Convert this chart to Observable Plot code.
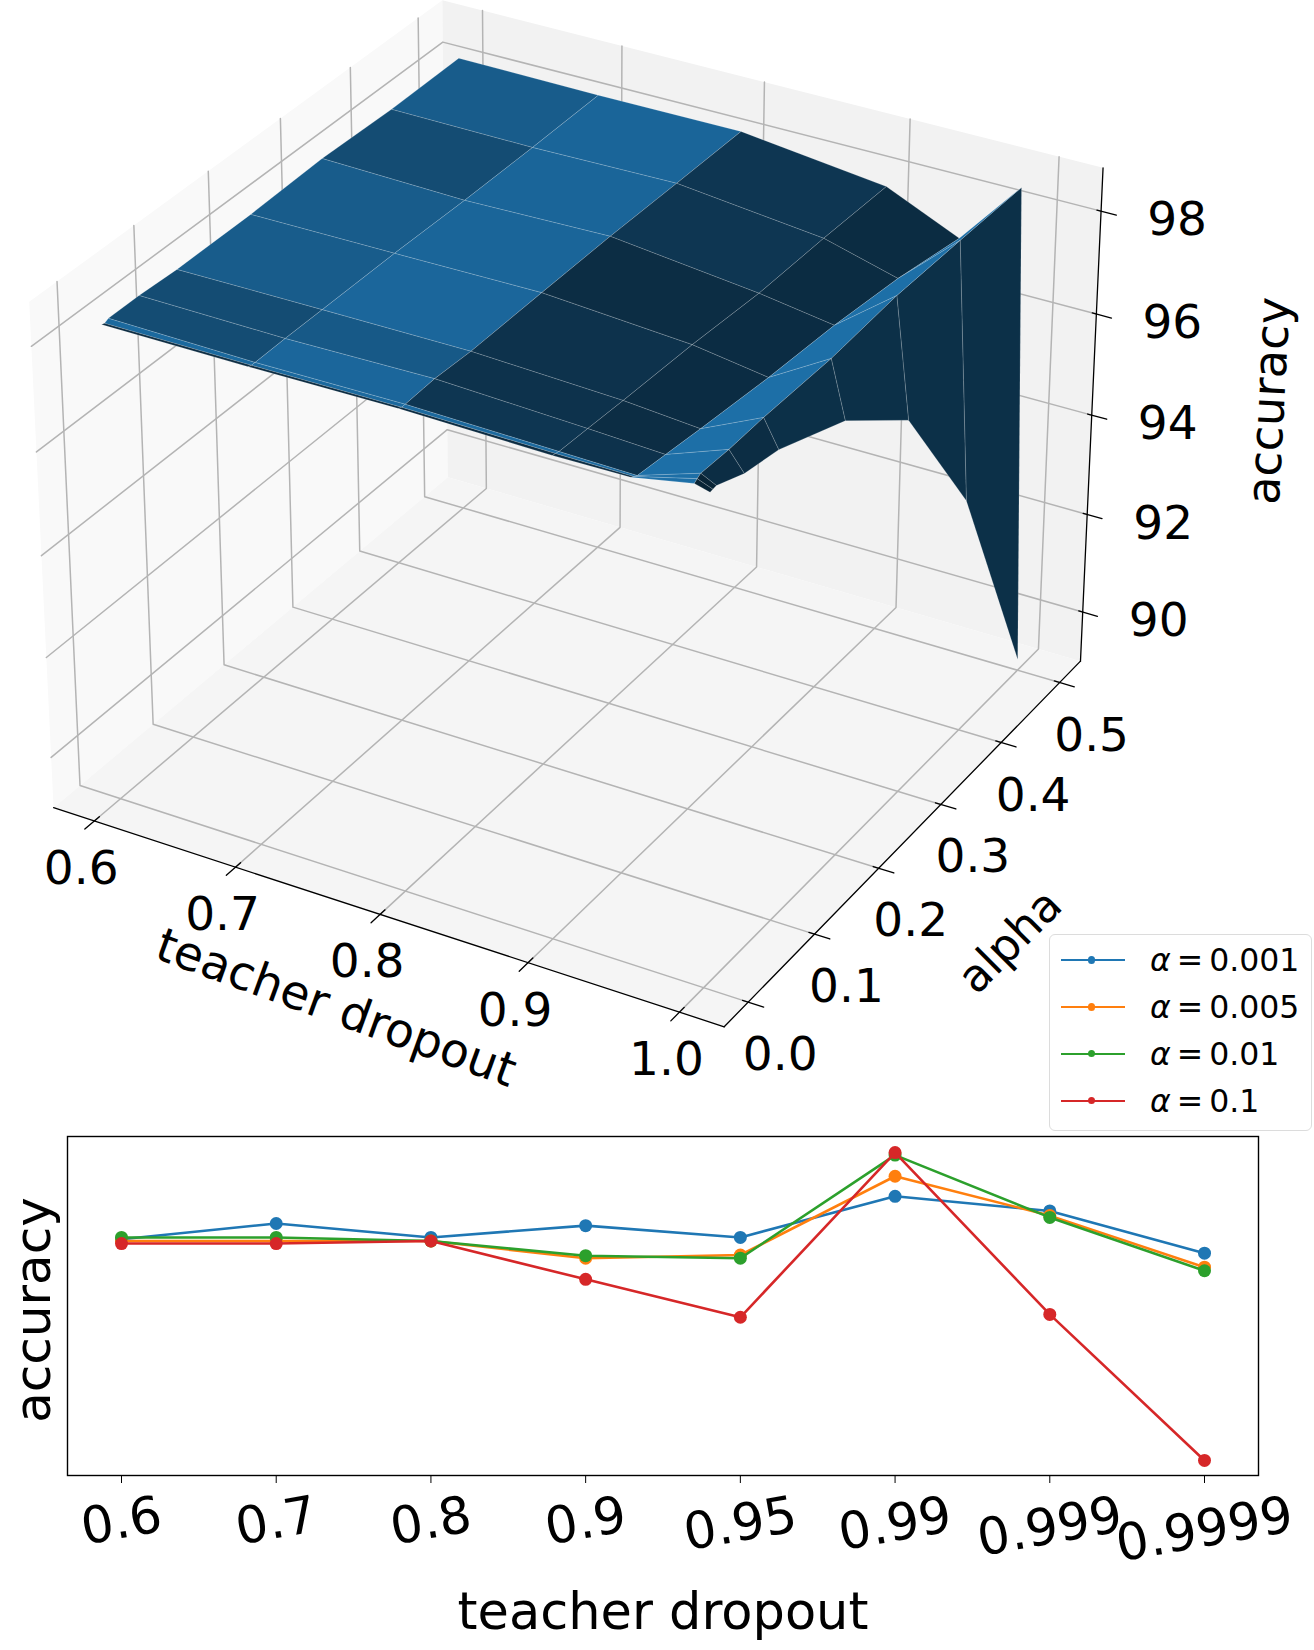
<!DOCTYPE html>
<html>
<head>
<meta charset="utf-8">
<script src="https://cdn.jsdelivr.net/npm/d3@7"></script>
<script src="https://cdn.jsdelivr.net/npm/@observablehq/plot@0.6"></script>
<style>
  body { margin: 0; background: #fff; font-family: "DejaVu Sans", sans-serif; }
  #page { position: relative; width: 1314px; height: 1650px; overflow: hidden; }
  #top, #bottom { position: absolute; left: 0; }
  #top { top: 0; }
  #bottom { top: 1132px; }
  #legend { position: absolute; left: 1049px; top: 934px; width: 263px; height: 197px; box-sizing: border-box;
    background: #fff; border: 1.5px solid #dcdcdc; border-radius: 6px; }
  .row { position: absolute; left: 0; width: 100%; height: 0; }
  .row .ln { position: absolute; left: 10.5px; top: -1px; width: 64px; height: 2px; }
  .row .pt { position: absolute; left: 38px; top: -3.7px; width: 7.4px; height: 7.4px; border-radius: 50%; }
  .row .tx { position: absolute; left: 100px; top: -20px; line-height: 40px; font-size: 31.5px; word-spacing: -4px; white-space: nowrap; color: #000; }
</style>
</head>
<body>
<div id="page">
  <div id="top"></div>
  <div id="bottom"></div>
  <div id="legend"></div>
</div>
<script>
/* Surface: columns are teacher dropout, values run along alpha */
const dropoutGrid = [0.6, 0.7, 0.8, 0.9, 0.95, 0.99, 0.9999]
const alphaGrid = [0.001, 0.005, 0.01, 0.05, 0.1, 0.2, 0.3, 0.4, 0.5]
const acc06 = [98.24, 98.22, 98.26, 98.26, 98.22, 98.22, 98.27, 98.22, 98.24]
const acc07 = [98.24, 98.22, 98.22, 98.23, 98.23, 98.23, 98.20, 98.20, 98.22]
const acc08 = [98.26, 98.24, 98.24, 98.27, 98.23, 98.25, 98.26, 98.24, 98.23]
const acc09 = [98.21, 98.20, 98.18, 98.15, 98.11, 98.05, 97.94, 97.93, 97.89]
const acc095 = [98.22, 98.19, 98.15, 98.08, 97.99, 97.83, 97.72, 97.54, 97.26]
const acc099 = [98.44, 98.48, 98.52, 98.50, 98.52, 98.50, 98.59, 98.57, 98.54]
const acc09999 = [98.36, 98.37, 98.38, 98.14, 98.01, 97.42, 96.31, 93.61, 89.20]
const surface = [acc06, acc07, acc08, acc09, acc095, acc099, acc09999]

/* brightness of each cell (rows along alpha, then dropout) */
const cellShade = [
  [0.36, 0.36, 0.36, 0.36, 0.93, 0.30],
  [0.88, 0.88, 0.88, 0.88, 0.93, 0.30],
  [0.64, 0.86, 0.455, 0.42, 0.93, 0.38],
  [0.64, 0.75, 0.42, 0.38, 0.93, 0.38],
  [0.77, 0.86, 0.42, 0.37, 0.93, 0.40],
  [0.77, 0.85, 0.38, 0.37, 0.93, 0.40],
  [0.64, 0.85, 0.455, 0.367, 0.93, 0.40],
  [0.77, 0.85, 0.455, 0.367, 0.93, 0.40],
]

/* 3d axes */
const xLim = [0.5708, 1.0291]
const yLim = [-0.0354, 0.5364]
const zLim = [88.98, 98.83]
const xTicks = [0.6, 0.7, 0.8, 0.9, 1.0]
const yTicks = [0, 0.1, 0.2, 0.3, 0.4, 0.5]
const zTicks = [90, 92, 94, 96, 98]

/* Line chart */
const dropoutLabels = ['0.6', '0.7', '0.8', '0.9', '0.95', '0.99', '0.999', '0.9999']
const lineAlpha = ['0.001', '0.005', '0.01', '0.1']
const lineColors = ['#1f77b4', '#ff7f0e', '#2ca02c', '#d62728']
const accAlpha0001 = [95.78, 96.22, 95.83, 96.16, 95.83, 96.98, 96.57, 95.39]
const accAlpha0005 = [95.73, 95.73, 95.73, 95.25, 95.34, 97.54, 96.44, 95.00]
const accAlpha001 = [95.83, 95.83, 95.73, 95.32, 95.25, 98.13, 96.39, 94.90]
const accAlpha01 = [95.66, 95.66, 95.73, 94.66, 93.60, 98.20, 93.68, 89.60]
const lineSeries = [accAlpha0001, accAlpha0005, accAlpha001, accAlpha01]

/* mplot3d camera, elev 30 azim -60 */
const boxHalf = [0.595, 0.595, 0.4465]
const viewN = [0.433013, -0.75, 0.5]
const viewU = [0.866025, 0.5, 0]
const viewV = [-0.25, 0.433013, 0.866025]
const dot3 = (p, q) => p[0] * q[0] + p[1] * q[1] + p[2] * q[2]

function project(x, y, z) {
  const p = [
    ((x - xLim[0]) / (xLim[1] - xLim[0]) * 2 - 1) * boxHalf[0],
    ((y - yLim[0]) / (yLim[1] - yLim[0]) * 2 - 1) * boxHalf[1],
    ((z - zLim[0]) / (zLim[1] - zLim[0]) * 2 - 1) * boxHalf[2],
  ]
  const depth = 10 - dot3(p, viewN)
  return { a: dot3(p, viewU) / depth, b: dot3(p, viewV) / depth, depth }
}

/* points -> rows for Plot.line, one id per polygon or segment */
let nextId = 0
function path(points, extra = {}) {
  const id = nextId++
  return points.map(p => ({ id, ...project(...p), ...extra }))
}

const [x0, x1] = xLim
const [y0, y1] = yLim
const [z0, z1] = zLim

const panes = [
  { fill: '#f9f9f9', corners: [[x0, y0, z0], [x0, y1, z0], [x0, y1, z1], [x0, y0, z1], [x0, y0, z0]] },
  { fill: '#f2f2f2', corners: [[x0, y1, z0], [x1, y1, z0], [x1, y1, z1], [x0, y1, z1], [x0, y1, z0]] },
  { fill: '#f5f5f5', corners: [[x0, y0, z0], [x1, y0, z0], [x1, y1, z0], [x0, y1, z0], [x0, y0, z0]] },
]

const gridRows = [
  ...xTicks.flatMap(t => path([[t, y0, z0], [t, y1, z0], [t, y1, z1]])),
  ...yTicks.flatMap(t => path([[x1, t, z0], [x0, t, z0], [x0, t, z1]])),
  ...zTicks.flatMap(t => path([[x1, y1, t], [x0, y1, t], [x0, y0, t]])),
]

const axisRows = [
  ...path([[x0, y0, z0], [x1, y0, z0]]),
  ...path([[x1, y0, z0], [x1, y1, z0]]),
  ...path([[x1, y1, z0], [x1, y1, z1]]),
]

const dx = x1 - x0
const dy = y1 - y0
const tickRows = [
  ...xTicks.flatMap(t => path([[t, y0 + 0.012 * dy, z0], [t, y0 - 0.022 * dy, z0]])),
  ...yTicks.flatMap(t => path([[x1 - 0.008 * dx, t, z0], [x1 + 0.022 * dx, t, z0]])),
  ...zTicks.flatMap(t => path([[x1 - 0.006 * dx, y1, t], [x1 + 0.022 * dx, y1, t]])),
]

/* faces far to near */
const faces = []
alphaGrid.slice(0, -1).forEach((_, j) => {
  dropoutGrid.slice(0, -1).forEach((_, i) => {
    const corners = [[i, j], [i + 1, j], [i + 1, j + 1], [i, j + 1], [i, j]]
      .map(([c, r]) => [dropoutGrid[c], alphaGrid[r], surface[c][r]])
    const depth = d3.mean(corners.slice(0, 4), p => project(...p).depth)
    faces.push({ corners, depth, shade: cellShade[j][i] })
  })
})
faces.sort((p, q) => q.depth - p.depth)
const faceRows = faces.flatMap(f => path(f.corners, { shade: f.shade }))

const tickText = (values, fn, format) => values.map(t => ({ ...fn(t), label: format(t) }))
const xLabels = tickText(xTicks, t => project(t, y0, z0), d3.format('.1f'))
const yLabels = tickText(yTicks, t => project(x1, t, z0), d3.format('.1f'))
const zLabels = tickText(zTicks, t => project(x1, y1, t), d3.format('d'))

const topW = 1314
const topH = 1132
const px = 6456
const cx = 576
const cy = 488.4

const chart3d = Plot.plot({
  width: topW,
  height: topH,
  margin: 0,
  style: { fontFamily: '"DejaVu Sans"', background: 'transparent' },
  x: { axis: null, domain: [-cx / px, (topW - cx) / px], range: [0, topW] },
  y: { axis: null, domain: [cy / px, (cy - topH) / px], range: [0, topH] },
  color: { type: 'linear', domain: [0, 1], range: ['#000000', '#1f77b4'] },
  marks: [
    ...panes.map(p => Plot.line(path(p.corners), { x: 'a', y: 'b', fill: p.fill, stroke: 'none' })),
    Plot.line(gridRows, { x: 'a', y: 'b', z: 'id', stroke: '#b4b4b4', strokeWidth: 1.5 }),
    Plot.line(axisRows, { x: 'a', y: 'b', z: 'id', stroke: '#000', strokeWidth: 1.3 }),
    Plot.line(tickRows, { x: 'a', y: 'b', z: 'id', stroke: '#000', strokeWidth: 1.3 }),
    Plot.line(faceRows, { x: 'a', y: 'b', z: 'id', fill: 'shade', stroke: '#fff', strokeOpacity: 0.24, strokeWidth: 0.7 }),
    Plot.text(xLabels, { x: 'a', y: 'b', text: 'label', fontSize: 47, fill: '#000', dx: -13, dy: 48 }),
    Plot.text(yLabels, { x: 'a', y: 'b', text: 'label', fontSize: 47, fill: '#000', dx: 32, dy: 53 }),
    Plot.text(zLabels, { x: 'a', y: 'b', text: 'label', fontSize: 47, fill: '#000', dx: 76, dy: 9 }),
    Plot.text([project((x0 + x1) / 2, y0, z0)], { x: 'a', y: 'b', text: () => 'teacher dropout', fontSize: 47, fill: '#000', rotate: 20, dx: -44, dy: 94 }),
    Plot.text([project(x1, (y0 + y1) / 2, z0)], { x: 'a', y: 'b', text: () => 'alpha', fontSize: 45, fill: '#000', rotate: -45, dx: 100, dy: 106 }),
    Plot.text([project(x1, y1, (z0 + z1) / 2)], { x: 'a', y: 'b', text: () => 'accuracy', fontSize: 46, fill: '#000', rotate: -87, dx: 178, dy: -19 }),
  ],
})
d3.select('#top').append(() => chart3d)

/* Lower panel */
const lineTable = lineSeries.map(values => values.map((v, i) => ({ dropout: dropoutLabels[i], acc: v })))
const labelFont = 51
const labelWidth = s => (s.length - 1) * 0.636 * labelFont + 0.318 * labelFont

const chartLine = Plot.plot({
  width: 1314,
  height: 518,
  marginTop: 4,
  marginBottom: 175,
  marginLeft: 67,
  marginRight: 56,
  style: { fontFamily: '"DejaVu Sans"', background: 'transparent' },
  x: { type: 'point', domain: dropoutLabels, range: [121, 1204], padding: 0, round: false },
  y: { axis: null, domain: [89.18, 98.65] },
  marks: [
    Plot.axisX({ tickSize: 8, tickFormat: () => '', label: null, stroke: '#000' }),
    ...lineTable.flatMap((rows, k) => [
      Plot.line(rows, { x: 'dropout', y: 'acc', stroke: lineColors[k], strokeWidth: 2.6 }),
      Plot.dot(rows, { x: 'dropout', y: 'acc', fill: lineColors[k], r: 6.5 }),
    ]),
    Plot.frame({ stroke: '#000', strokeWidth: 1.4 }),
    ...dropoutLabels.map(s => Plot.text([s], {
      x: d => d,
      text: d => d,
      frameAnchor: 'bottom',
      lineAnchor: 'middle',
      textAnchor: 'middle',
      rotate: -10,
      fontSize: labelFont,
      fill: '#000',
      dy: 39 + labelWidth(s) * 0.5 * Math.sin(10 * Math.PI / 180),
    })),
    Plot.text(['teacher dropout'], { frameAnchor: 'bottom', lineAnchor: 'middle', fontSize: 51, fill: '#000', dy: 137 }),
    Plot.text(['accuracy'], { frameAnchor: 'left', textAnchor: 'middle', lineAnchor: 'middle', rotate: -90, fontSize: 50, fill: '#000', dx: -34, dy: 4 }),
  ],
})
d3.select('#bottom').append(() => chartLine)

/* Legend */
const legendRowY = [25, 72, 118.5, 165.5]
const $legend = d3.select('#legend')
lineAlpha.forEach((a, k) => {
  const $row = $legend.append('div').attr('class', 'row').style('top', legendRowY[k] + 'px')
  $row.append('span').attr('class', 'ln').style('background', lineColors[k])
  $row.append('span').attr('class', 'pt').style('background', lineColors[k])
  $row.append('span').attr('class', 'tx').html('<i>α</i> = ' + a)
})
</script>
</body>
</html>
